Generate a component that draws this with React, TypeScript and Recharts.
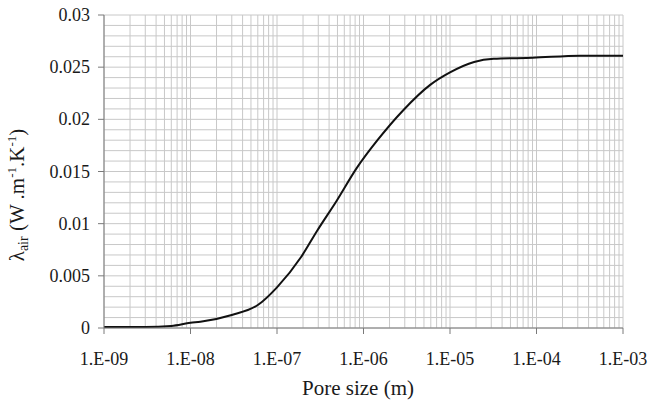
import React from "react"
import { LineChart, Line, XAxis, YAxis, CartesianGrid, Label } from "recharts"

// pore size (m) and air conductivity (W/m/K)
const PORE_SIZE = [
    1e-9, 3e-9, 6e-9, 1e-8, 1.3e-8, 3e-8, 6e-8, 1e-7, 1.9e-7, 2.9e-7, 4.9e-7,
    8.3e-7, 1.45e-6, 2.9e-6, 5.9e-6, 1e-5, 1.9e-5, 3.2e-5, 9e-5, 3.2e-4, 1e-3,
]
const LAMBDA_AIR = [
    0.0001, 0.0001, 0.0002, 0.0005, 0.0006, 0.00125, 0.0022, 0.0039, 0.0068, 0.0093, 0.0122,
    0.0153, 0.018, 0.0209, 0.0233, 0.0245, 0.0255, 0.0258, 0.0259, 0.0261, 0.0261,
]

const X_DECADES = [1e-9, 1e-8, 1e-7, 1e-6, 1e-5, 1e-4, 1e-3]
const X_TICK_LABELS = ["1.E-09", "1.E-08", "1.E-07", "1.E-06", "1.E-05", "1.E-04", "1.E-03"]
const X_MINOR_MULTIPLES = [2, 3, 4, 5, 6, 7, 8, 9]

const Y_MAJOR_TICKS = [0, 0.005, 0.01, 0.015, 0.02, 0.025, 0.03]
const Y_TICK_LABELS = ["0", "0.005", "0.01", "0.015", "0.02", "0.025", "0.03"]
const Y_MINOR_DIVISIONS = 5

const data = PORE_SIZE.map((x, i) => ({ x, y: LAMBDA_AIR[i] }))

const xGridTicks: number[] = []
X_DECADES.forEach((d, i) => {
    xGridTicks.push(d)
    if (i < X_DECADES.length - 1) X_MINOR_MULTIPLES.forEach((m) => xGridTicks.push(m * d))
})

const yGridTicks: number[] = []
Y_MAJOR_TICKS.forEach((t, i) => {
    yGridTicks.push(t)
    if (i < Y_MAJOR_TICKS.length - 1) {
        const step = (Y_MAJOR_TICKS[i + 1] - t) / Y_MINOR_DIVISIONS
        for (let k = 1; k < Y_MINOR_DIVISIONS; k++) yGridTicks.push(t + k * step)
    }
})

const FONT = "'Liberation Serif', 'DejaVu Serif', 'Times New Roman', Times, serif"
const AXIS = "#7a7a7a"
const TEXT = "#1a1a1a"
const txt = { fontFamily: FONT }

function XTick(props: any) {
    const { x, payload } = props
    const idx = X_DECADES.findIndex((d) => Math.abs(d - payload.value) / d < 1e-6)
    if (idx < 0) return <g />
    return (
        <g>
            <line x1={x} x2={x} y1={328} y2={334} stroke={AXIS} strokeWidth={1} />
            <text x={x} y={365} textAnchor="middle" fontSize={18} fill={TEXT} style={txt}>
                {X_TICK_LABELS[idx]}
            </text>
        </g>
    )
}

function YTick(props: any) {
    const { y, payload } = props
    const idx = Y_MAJOR_TICKS.findIndex((t) => Math.abs(t - payload.value) < 1e-9)
    if (idx < 0) return <g />
    return (
        <g>
            <line x1={98} x2={104} y1={y} y2={y} stroke={AXIS} strokeWidth={1} />
            <text x={90} y={y + 6} textAnchor="end" fontSize={18} fill={TEXT} style={txt}>
                {Y_TICK_LABELS[idx]}
            </text>
        </g>
    )
}

function YTitle() {
    return (
        <text
            transform="translate(24,195) rotate(-90)"
            textAnchor="middle"
            fontSize={21}
            fill={TEXT}
            style={txt}
        >
            <tspan>λ</tspan>
            <tspan fontSize={14} dy={4}>air</tspan>
            <tspan dy={-4}> (W .m</tspan>
            <tspan fontSize={13} dy={-8}>-1</tspan>
            <tspan dy={8}>.K</tspan>
            <tspan fontSize={13} dy={-8}>-1</tspan>
            <tspan dy={8}>)</tspan>
        </text>
    )
}

function XTitle() {
    return (
        <text x={358} y={395} textAnchor="middle" fontSize={21} fill={TEXT} style={txt}>
            Pore size (m)
        </text>
    )
}

export default function App() {
    return (
        <div style={{ position: "absolute", left: 0, top: 0, width: 651, height: 402, background: "#fff", fontFamily: FONT }}>
            <LineChart
                width={651}
                height={402}
                data={data}
                margin={{ top: 15, right: 28, left: 0, bottom: 0 }}
            >
                <CartesianGrid stroke="#c8c8c8" strokeWidth={1} />
                <XAxis
                    dataKey="x"
                    type="number"
                    scale="log"
                    domain={[1e-9, 1e-3]}
                    ticks={xGridTicks}
                    interval={0}
                    tick={<XTick />}
                    tickLine={false}
                    axisLine={{ stroke: AXIS }}
                    height={74}
                    allowDataOverflow
                >
                    <Label content={<XTitle />} />
                </XAxis>
                <YAxis
                    type="number"
                    domain={[0, 0.03]}
                    ticks={yGridTicks}
                    interval={0}
                    tick={<YTick />}
                    tickLine={false}
                    axisLine={{ stroke: AXIS }}
                    width={104}
                    allowDataOverflow
                >
                    <Label content={<YTitle />} />
                </YAxis>
                <Line
                    type="monotone"
                    dataKey="y"
                    stroke="#111"
                    strokeWidth={2}
                    dot={false}
                    isAnimationActive={false}
                />
            </LineChart>
        </div>
    )
}
